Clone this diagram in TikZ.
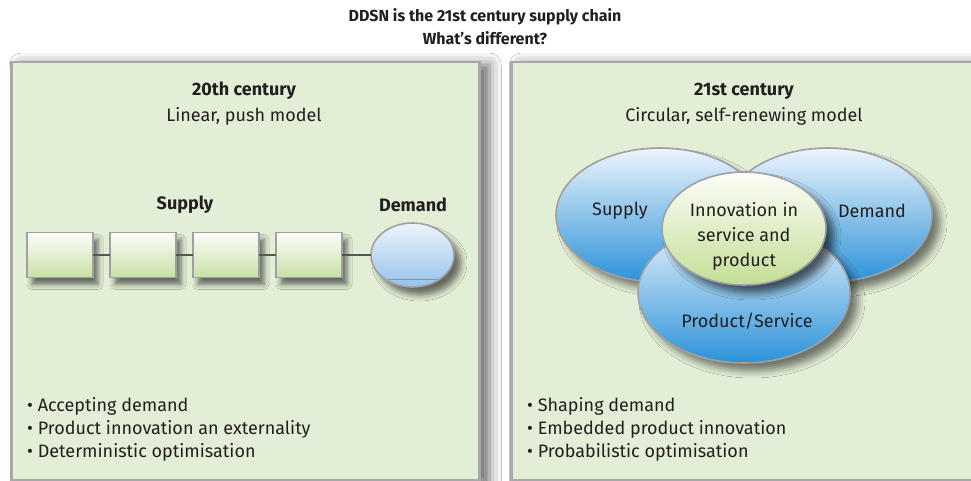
\documentclass[tikz,border=0pt]{standalone}
\usepackage{fontspec}
\setmainfont{Fira Sans}
\usetikzlibrary{positioning,shapes.geometric,shadows.blur}
\definecolor{panelfill}{RGB}{226,238,213}
\definecolor{panelline}{RGB}{168,168,172}
\definecolor{edgegray}{RGB}{160,160,164}
\definecolor{boxtop}{RGB}{252,253,249}
\definecolor{boxbot}{RGB}{200,224,165}
\definecolor{bluetop}{RGB}{236,244,252}
\definecolor{bluebot}{RGB}{44,146,216}
\definecolor{lbluebot}{RGB}{150,194,234}
\definecolor{innertop}{RGB}{252,253,248}
\definecolor{innerbot}{RGB}{196,222,150}
\definecolor{linkgray}{RGB}{85,85,90}
\definecolor{artgreen}{RGB}{120,160,140}
\definecolor{txt}{RGB}{35,31,32}
\newcommand{\bodysize}{\fontsize{18}{23}\selectfont}
\newcommand{\headsize}{\fontsize{18}{23}\selectfont\bfseries}
\tikzset{
  panel/.style={draw=panelline, line width=2.5pt, fill=panelfill, inner sep=0pt,
      minimum height=418pt, anchor=west,
      blur shadow={shadow xshift=10pt, shadow yshift=-3pt, shadow blur radius=12pt, shadow opacity=60}},
  ttl/.style={font=\fontsize{16}{20}\selectfont\bfseries, text=txt},
  head/.style={font=\headsize, text=txt},
  sub/.style={font=\bodysize, text=txt},
  sbox/.style={draw=edgegray, line width=1.6pt, top color=boxtop, bottom color=boxbot,
      minimum width=66pt, minimum height=45pt, inner sep=0pt, outer sep=0pt,
      blur shadow={shadow xshift=5pt, shadow yshift=-7pt, shadow blur radius=5pt, shadow opacity=55}},
  link/.style={linkgray, line width=2.2pt},
  dem/.style={ellipse, draw=edgegray, line width=1.6pt, top color=bluetop, bottom color=lbluebot,
      minimum width=83pt, minimum height=64pt, inner sep=0pt, outer sep=0pt,
      blur shadow={shadow xshift=7pt, shadow yshift=-8pt, shadow blur radius=6pt, shadow opacity=55}},
  blob/.style={ellipse, draw=edgegray, line width=1.6pt, top color=bluetop, bottom color=bluebot,
      inner sep=0pt,
      blur shadow={shadow xshift=8pt, shadow yshift=-8pt, shadow blur radius=7pt, shadow opacity=50}},
  core/.style={ellipse, draw=edgegray, line width=1.6pt, top color=innertop, bottom color=innerbot,
      inner sep=0pt, minimum width=164pt, minimum height=113pt,
      blur shadow={shadow xshift=8pt, shadow yshift=-8pt, shadow blur radius=7pt, shadow opacity=60}},
  blobtxt/.style={font=\bodysize, text=txt, align=center},
  bullet/.style={font=\bodysize, text=txt, anchor=base west, inner sep=0pt},
}

\begin{document}
\begin{tikzpicture}[x=1pt, y=-1pt]
  \useasboundingbox (0,0) rectangle (971,481);
  \fill[white] (0,0) rectangle (971,481);
  % title
  \node[ttl] (title1) at (485,17) {DDSN is the 21st century supply chain};
  \node[ttl] (title2) at (485,38) {What’s different?};
  % panels
  \node[panel, minimum width=468pt] (lpanel) at (10,271) {};
  \node[panel, minimum width=500pt] (rpanel) at (510,271) {};
  % left: linear chain
  \node[head] (lhead) at (244,91) {20th century};
  \node[sub] (lsub) at (244,116) {Linear, push model};
  \node[sbox] (s1) at (60,255) {};
  \node[sbox, right=17pt of s1] (s2) {};
  \node[sbox, right=17pt of s2] (s3) {};
  \node[sbox, right=17pt of s3] (s4) {};
  \node[dem, right=29pt of s4] (dmd) {};
  \draw[artgreen, line width=0.6pt] ([xshift=-25pt, yshift=-24pt]dmd.center) -- ([xshift=25pt, yshift=-24pt]dmd.center);
  \draw[link] (s1) -- (s2);
  \draw[link] (s2) -- (s3);
  \draw[link] (s3) -- (s4);
  \draw[link] (s4) -- (dmd);
  \node[head] (supplyl) at (185,205) {Supply};
  \node[head] (demandl) at (413,205) {Demand};
  % right: circular model
  \node[head] (rhead) at (744,91) {21st century};
  \node[sub] (rsub) at (744,116) {Circular, self-renewing model};
  \node[blob, minimum width=208pt, minimum height=134pt] (supr) at (660,215) {};
  \node[blob, minimum width=208pt, minimum height=134pt] (demr) at (828,215) {};
  \node[blob, minimum width=212pt, minimum height=140pt] (prod) at (744,293) {};
  \node[core] (innov) at (744,228.5) {};
  \node[blobtxt] (suprtxt) at (620,211) {Supply};
  \node[blobtxt] (demrtxt) at (872,211) {Demand};
  \node[blobtxt] (prodtxt) at (747,321) {Product/Service};
  \node[blobtxt, font=\fontsize{18}{25}\selectfont] (innovtxt) at (744,236) {Innovation in\\service and\\product};
  % bullet lists
  \foreach \t [count=\i] in {Accepting demand, Product innovation an externality, Deterministic optimisation}
    \node[bullet] (lb\i) at (27,{388+23*\i}) {• \t};
  \foreach \t [count=\i] in {Shaping demand, Embedded product innovation, Probabilistic optimisation}
    \node[bullet] (rb\i) at (527,{388+23*\i}) {• \t};
\end{tikzpicture}
\end{document}
